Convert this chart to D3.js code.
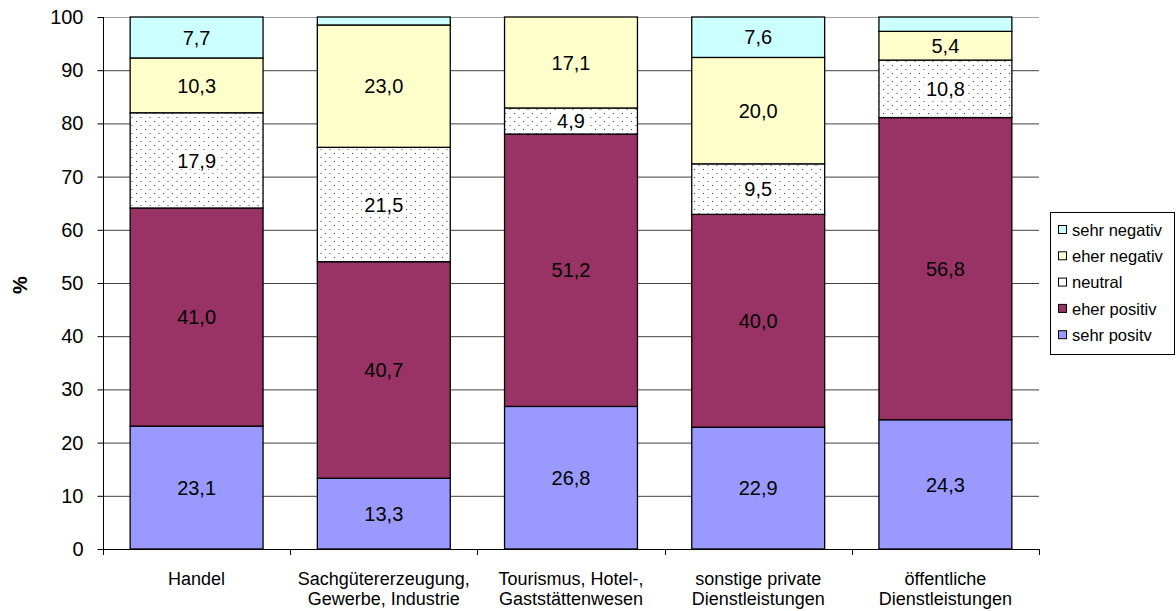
<!DOCTYPE html>
<html><head><meta charset="utf-8">
<script src="https://cdn.jsdelivr.net/npm/d3@7"></script>
<style>body{margin:0;background:#fff;font-family:"Liberation Sans",Arial,sans-serif;}</style>
</head><body>
<svg id="c" width="1176" height="611"></svg>
<script>
const categories = [["Handel"],["Sachgütererzeugung,","Gewerbe, Industrie"],["Tourismus, Hotel-,","Gaststättenwesen"],["sonstige private","Dienstleistungen"],["öffentliche","Dienstleistungen"]];
const seriesNames = ["sehr positv","eher positiv","neutral","eher negativ","sehr negativ"];
const sehrPositiv = [23.1,13.3,26.8,22.9,24.3];
const eherPositiv = [41.0,40.7,51.2,40.0,56.8];
const neutral = [17.9,21.5,4.9,9.5,10.8];
const eherNegativ = [10.3,23.0,17.1,20.0,5.4];
const sehrNegativ = [7.7,1.5,0.0,7.6,2.7];
const yTicks = [0,10,20,30,40,50,60,70,80,90,100];

const series = [sehrPositiv,eherPositiv,neutral,eherNegativ,sehrNegativ];
const colors = ["#9999ff","#993366","url(#dots)","#ffffcc","#ccffff"];
const legendColors = ["#9999ff","#993366","#ffffff","#ffffcc","#ccffff"];
const FONT = "Liberation Sans, Arial, sans-serif";

const svg = d3.select("#c").attr("font-family",FONT);
const defs = svg.append("defs");
const pat = defs.append("pattern").attr("id","dots").attr("patternUnits","userSpaceOnUse").attr("width",9).attr("height",8);
pat.append("rect").attr("width",9).attr("height",8).attr("fill","#fff");
pat.append("rect").attr("x",1).attr("y",1).attr("width",1).attr("height",1).attr("fill","#444");
pat.append("rect").attr("x",5.5).attr("y",5).attr("width",1).attr("height",1).attr("fill","#444");

const x0=103, x1=1039, yTop=17, yBot=549;
const x = d3.scaleBand().domain(d3.range(5)).range([x0,x1]).paddingInner(0.29).paddingOuter(0.145);
const y = d3.scaleLinear().domain([0,100]).range([yBot,yTop]);

// gridlines
svg.append("g").selectAll("line").data(yTicks.filter(d=>d>0)).join("line")
  .attr("x1",x0).attr("x2",x1).attr("y1",d=>y(d)+0.5).attr("y2",d=>y(d)+0.5)
  .attr("stroke",d=>d===100?"#a0a0a0":"#404040").attr("stroke-width",1);

// bars
const stacked = d3.range(5).map(i=>{let c=0;return series.map(s=>{const a=c;c+=s[i];return [a,c,s[i]];});});
stacked.forEach((segs,i)=>{
  segs.forEach((sg,k)=>{
    if(sg[2]<=0) return;
    svg.append("rect").attr("x",x(i)).attr("width",x.bandwidth())
      .attr("y",y(sg[1])).attr("height",y(sg[0])-y(sg[1]))
      .attr("fill",colors[k]).attr("stroke","#000").attr("stroke-width",1.3);
  });
});
stacked.forEach((segs,i)=>{
  segs.forEach((sg,k)=>{
    if(sg[2]<4) return;
    const t = d3.format(".1f")(sg[2]).replace(".",",");
    const cy=(y(sg[0])+y(sg[1]))/2;
    if(k===2){
      const w=t.length*10.5+2;
      svg.append("rect").attr("x",x(i)+x.bandwidth()/2-w/2).attr("y",cy-9).attr("width",w).attr("height",18).attr("fill","#fff");
    }
    svg.append("text").attr("x",x(i)+x.bandwidth()/2).attr("y",cy).attr("dy","0.36em")
      .attr("text-anchor","middle").attr("font-size",20).attr("fill","#000").text(t);
  });
});

// y axis
const ya = svg.append("g").attr("transform",`translate(${x0+0.5},0)`).call(d3.axisLeft(y).tickValues(yTicks).tickSize(6).tickPadding(14).tickFormat(d3.format("d")));
ya.select(".domain").attr("stroke","#000").attr("d",`M0,${yTop}V${yBot}`);
ya.selectAll(".tick line").attr("stroke","#000");
ya.selectAll("text").attr("font-size",20).attr("font-family",FONT).attr("fill","#000");

// x axis
svg.append("line").attr("x1",x0).attr("x2",x1).attr("y1",yBot+0.5).attr("y2",yBot+0.5).attr("stroke","#000");
const step = (x1-x0)/5;
svg.append("g").selectAll("line").data(d3.range(6)).join("line")
  .attr("x1",d=>Math.round(x0+d*step)+0.5).attr("x2",d=>Math.round(x0+d*step)+0.5)
  .attr("y1",yBot).attr("y2",yBot+6).attr("stroke","#000");
categories.forEach((lines,i)=>{
  const t=svg.append("text").attr("text-anchor","middle").attr("font-size",18).attr("fill","#000");
  lines.forEach((l,j)=>t.append("tspan").attr("x",x(i)+x.bandwidth()/2).attr("y",585+j*20).text(l));
});

// y title
svg.append("text").attr("transform","translate(27,285) rotate(-90)").attr("text-anchor","middle")
  .attr("font-size",20).attr("font-weight","bold").text("%");

// legend
const lg = svg.append("g");
lg.append("rect").attr("x",1050.5).attr("y",212.5).attr("width",124).attr("height",142).attr("fill","#fff").attr("stroke","#000");
const order=[4,3,2,1,0];
order.forEach((k,j)=>{
  const yy=230+j*26.3;
  lg.append("rect").attr("x",1058.5).attr("y",yy-4.5).attr("width",8).attr("height",8).attr("fill",legendColors[k]).attr("stroke","#000");
  lg.append("text").attr("x",1072).attr("y",yy).attr("dy","0.35em").attr("font-size",16.5).text(seriesNames[k]);
});
</script>
</body></html>
